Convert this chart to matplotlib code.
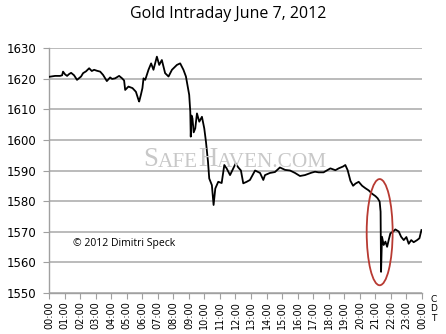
import matplotlib
matplotlib.use("Agg")
import matplotlib.pyplot as plt
from matplotlib.patches import Ellipse

# gold price: hour of day (CDT) and price
hours = [0.00, 0.39, 0.71, 0.84, 0.90, 1.03, 1.16, 1.29, 1.42, 1.61,
         1.80, 2.06, 2.19, 2.38, 2.58, 2.75, 2.90, 3.07, 3.29, 3.48,
         3.72, 3.93, 4.06, 4.25, 4.51, 4.70, 4.83, 4.90, 5.11, 5.37,
         5.59, 5.76, 5.80, 5.91, 6.01, 6.08, 6.19, 6.40, 6.57, 6.72,
         6.94, 7.09, 7.26, 7.47, 7.69, 7.91, 8.23, 8.44, 8.65, 8.81,
         8.91, 9.02, 9.09, 9.12, 9.17, 9.23, 9.31, 9.41, 9.52, 9.67,
         9.84, 9.99, 10.10, 10.23, 10.31, 10.48, 10.59, 10.70, 10.89, 11.11,
         11.28, 11.43, 11.65, 11.86, 12.01, 12.18, 12.35, 12.50, 12.72, 12.93,
         13.26, 13.58, 13.79, 13.90, 14.22, 14.54, 14.86, 15.19, 15.51, 15.83,
         16.15, 16.47, 16.90, 17.12, 17.35, 17.67, 18.11, 18.43, 18.64, 18.92,
         19.07, 19.22, 19.40, 19.57, 19.72, 19.93, 20.15, 20.36, 20.57, 20.79,
         21.01, 21.15, 21.28, 21.34, 21.37, 21.43, 21.54, 21.65, 21.76, 21.86,
         21.97, 22.15, 22.29, 22.51, 22.66, 22.83, 23.00, 23.15, 23.31, 23.47,
         23.69, 23.84, 23.97]
price = [1620.7, 1621.0, 1621.0, 1621.2, 1622.4, 1621.5, 1621.0, 1621.6, 1622.0, 1621.2,
         1619.7, 1620.8, 1621.9, 1622.5, 1623.5, 1622.6, 1623.0, 1622.7, 1622.4, 1621.3,
         1619.3, 1620.5, 1620.0, 1620.2, 1621.0, 1620.2, 1619.5, 1616.4, 1617.5, 1617.0,
         1615.8, 1613.1, 1612.6, 1614.8, 1617.0, 1620.2, 1619.7, 1623.0, 1625.1, 1623.0,
         1627.3, 1624.6, 1626.2, 1621.9, 1620.8, 1623.0, 1624.6, 1625.1, 1623.0, 1620.8,
         1618.0, 1614.8, 1609.3, 1601.1, 1608.0, 1607.1, 1602.5, 1603.8, 1608.7, 1606.0,
         1607.6, 1603.8, 1599.4, 1592.9, 1587.4, 1585.2, 1578.7, 1584.1, 1586.3, 1585.9,
         1591.8, 1590.7, 1588.5, 1590.7, 1592.3, 1591.0, 1590.0, 1585.8, 1586.3, 1586.9,
         1590.0, 1589.2, 1586.9, 1588.5, 1589.2, 1589.5, 1591.0, 1590.2, 1590.0, 1589.2,
         1588.2, 1588.5, 1589.3, 1589.6, 1589.4, 1589.4, 1590.7, 1590.1, 1590.7, 1591.3,
         1591.8, 1590.1, 1586.6, 1585.0, 1585.7, 1586.3, 1585.0, 1584.2, 1583.5, 1582.4,
         1581.6, 1580.9, 1579.8, 1576.5, 1556.8, 1568.3, 1565.6, 1566.7, 1565.0, 1567.2,
         1569.4, 1570.0, 1570.7, 1570.0, 1568.3, 1567.2, 1568.2, 1566.0, 1567.2, 1566.5,
         1567.2, 1567.8, 1570.5]

tick_hours = list(range(25))
tick_labels = ["%02d:00" % (h % 24) for h in tick_hours]
y_ticks = [1550, 1560, 1570, 1580, 1590, 1600, 1610, 1620, 1630]

fig = plt.figure(figsize=(4.46, 3.34), dpi=100)
ax = fig.add_axes([0.110, 0.124, 0.836, 0.731])

ax.plot(hours, price, color="black", lw=1.3, zorder=3)

ax.set_xlim(0, 24)
ax.set_ylim(1550, 1630)
ax.set_yticks(y_ticks)
ax.set_yticklabels([str(v) for v in y_ticks], fontsize=8.5, family="DejaVu Sans")
ax.set_xticks(tick_hours)
ax.set_xticklabels(tick_labels, rotation=90, fontsize=7, family="DejaVu Sans")

ax.grid(axis="y", color="#a8a8a8", lw=1.1, zorder=0)
for s in ["top", "right"]:
    ax.spines[s].set_visible(False)
for s in ["left", "bottom"]:
    ax.spines[s].set_color("#a0a0a0")
    ax.spines[s].set_linewidth(1.0)
ax.tick_params(axis="y", length=4, color="#a0a0a0", pad=5)
ax.tick_params(axis="x", length=4, color="#a0a0a0", pad=2)

# red circle round the 21:20 plunge
ax.add_patch(Ellipse((21.28, 1569.8), 1.67, 34.8, fill=False,
                     edgecolor="#b83a32", lw=1.3, zorder=4))

fig.text(0.511, 0.958, "Gold Intraday June 7, 2012", ha="center", va="center",
         fontsize=11.5, family="Open Sans")
fig.text(0.973, 0.075, "C\nD\nT", ha="center", va="center", fontsize=6.5,
         linespacing=1.1, family="DejaVu Sans")

ax.text(0.065, 0.20, "© 2012 Dimitri Speck", transform=ax.transAxes,
        fontsize=7.5, family="Open Sans", va="center", ha="left")

# watermark in small caps
wm = "#c8c8c8"
t = ax.text(0.252, 0.495, "S", transform=ax.transAxes, fontsize=19.3,
            family="Liberation Serif", color=wm, va="bottom", ha="left")
for part, size in [("AFE", 15.3), ("H", 19.3), ("AVEN.COM", 15.3)]:
    t = ax.annotate(part, xy=(1, 0), xycoords=t, fontsize=size,
                    family="Liberation Serif", color=wm, va="bottom", ha="left")

fig.savefig("out.png", dpi=100)
